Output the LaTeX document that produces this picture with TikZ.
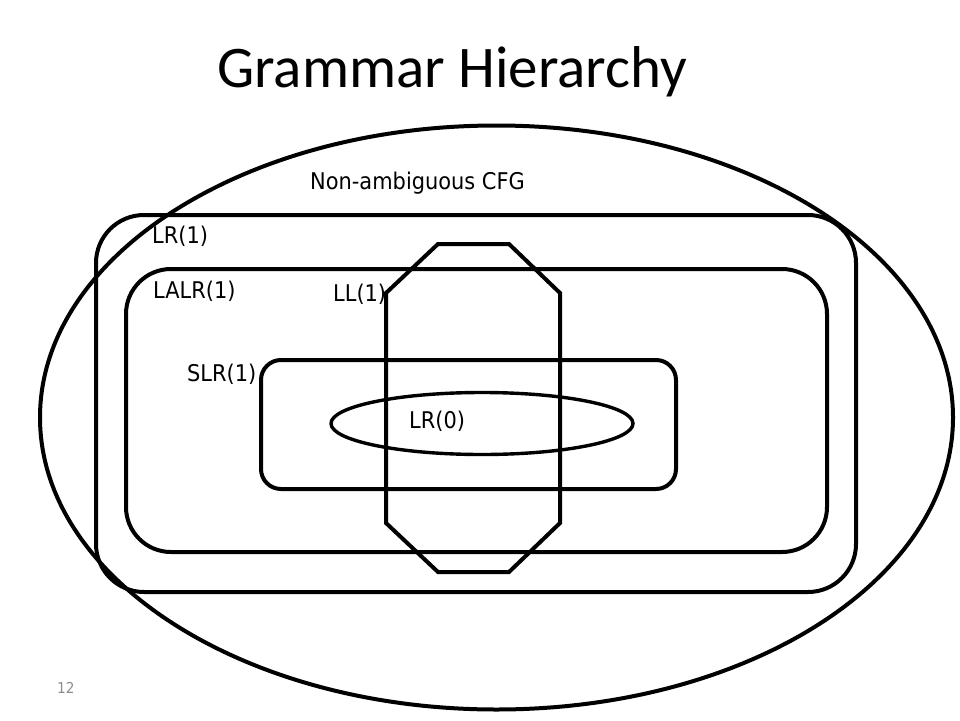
\documentclass[tikz,border=0pt]{standalone}
\usepackage{fontspec}
\setmainfont{DejaVu Sans}[FakeStretch=0.91]
\newfontfamily\titlefont{Carlito}
\begin{document}
\begin{tikzpicture}[x=1pt,y=-1pt,
  shape line/.style={draw=black,line width=4pt},
  lbl/.style={anchor=base west,inner sep=0pt,font=\fontsize{23}{26}\selectfont}]
\useasboundingbox (0,0) rectangle (960,720);
% outer ellipse
\draw[shape line] (496.5,417.5) ellipse [x radius=456.5, y radius=292];
% LR(1)
\draw[shape line,rounded corners=48pt] (96,215) rectangle (856,592);
% LALR(1)
\draw[shape line,rounded corners=45pt] (126,269) rectangle (827,552);
% SLR(1)
\draw[shape line,rounded corners=20pt] (261,360) rectangle (676,489);
% LR(0)
\draw[shape line,line width=3.4pt] (482,423.5) ellipse [x radius=151, y radius=31];
% LL(1)
\draw[shape line,line join=miter] (386,293) -- (438,244) -- (509,244) -- (560,293) -- (560,523) -- (509,572) -- (438,572) -- (386,523) -- cycle;
% title
\node[anchor=base west,inner sep=0pt,font=\titlefont\fontsize{59}{64}\selectfont] (title) at (217,87) {Grammar Hierarchy};
\node[lbl] (cfg) at (310,189) {Non-ambiguous CFG};
\node[lbl] (lr1) at (152,243) {LR(1)};
\node[lbl] (lalr) at (153,298) {LALR(1)};
\node[lbl] (ll1) at (333,301) {LL(1)};
\node[lbl] (slr) at (187,381) {SLR(1)};
\node[lbl] (lr0) at (409,428) {LR(0)};
\node[anchor=base west,inner sep=0pt,text=black!45,font=\fontsize{15}{17}\selectfont] (num) at (57,693) {12};
\end{tikzpicture}
\end{document}
